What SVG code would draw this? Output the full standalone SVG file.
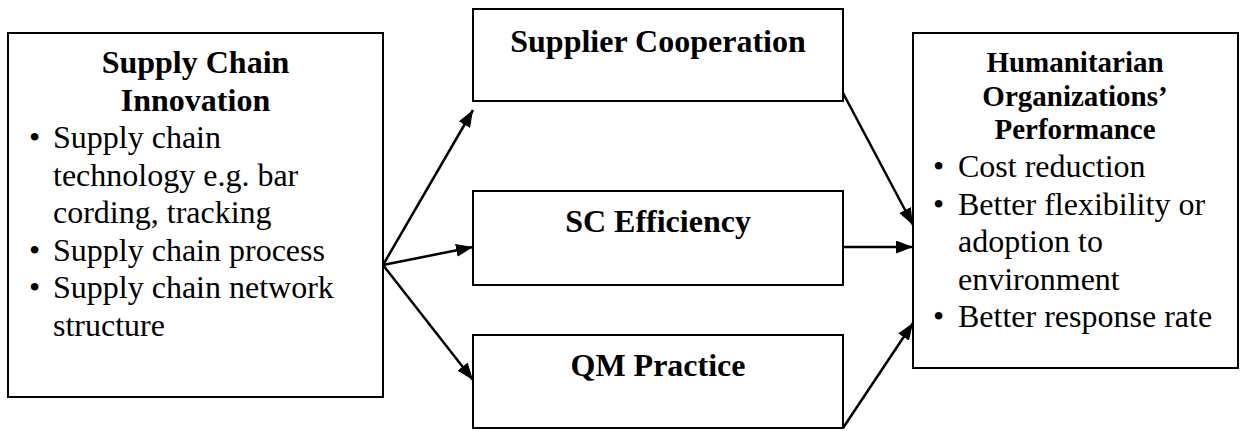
<svg xmlns="http://www.w3.org/2000/svg" width="1244" height="431" viewBox="0 0 1244 431" font-family="'Liberation Serif', Tinos, 'Times New Roman', Times, serif">
  <style>
    .box { fill: #fff; stroke: #000; stroke-width: 2; }
    text { font-family: 'Liberation Serif', Tinos, 'Times New Roman', Times, serif; fill: #000; }
    .title { font-weight: bold; font-size: 32px; text-anchor: middle; }
    .title-sm { font-weight: bold; font-size: 29px; text-anchor: middle; }
    .item { font-size: 32px; }
    .link { stroke: #000; stroke-width: 2.5; fill: none; marker-end: url(#arrow); }
  </style>
  <defs>
    <marker id="arrow" viewBox="0 0 17 13" refX="17" refY="6.5" markerWidth="17" markerHeight="13" markerUnits="userSpaceOnUse" orient="auto">
      <path d="M0,0 L17,6.5 L0,13 Z" fill="#000"/>
    </marker>
  </defs>
  <rect width="1244" height="431" fill="#fff"/>

  <!-- Supply Chain Innovation -->
  <g id="innovation" font-family="Liberation Serif">
    <rect class="box" x="8" y="33" width="375" height="364"/>
    <text class="title" x="195.5" y="73">Supply Chain</text>
    <text class="title" x="195.5" y="111">Innovation</text>
    <text class="item" x="29" y="148">•</text>
    <text class="item" x="53" y="148">Supply chain</text>
    <text class="item" x="53" y="185.5">technology e.g. bar</text>
    <text class="item" x="53" y="223">cording, tracking</text>
    <text class="item" x="29" y="260.5">•</text>
    <text class="item" x="53" y="260.5">Supply chain process</text>
    <text class="item" x="29" y="298">•</text>
    <text class="item" x="53" y="298">Supply chain network</text>
    <text class="item" x="53" y="335.5">structure</text>
  </g>

  <!-- Mediators -->
  <g id="supplier-cooperation">
    <rect class="box" x="473" y="9" width="370" height="92"/>
    <text class="title" x="658" y="52">Supplier Cooperation</text>
  </g>
  <g id="sc-efficiency">
    <rect class="box" x="473" y="191" width="370" height="94"/>
    <text class="title" x="658" y="232">SC Efficiency</text>
  </g>
  <g id="qm-practice">
    <rect class="box" x="473" y="335" width="370" height="93"/>
    <text class="title" x="658" y="376">QM Practice</text>
  </g>

  <!-- Humanitarian Organizations' Performance -->
  <g id="performance">
    <rect class="box" x="913" y="33" width="325" height="335"/>
    <text class="title-sm" x="1075" y="72">Humanitarian</text>
    <text class="title-sm" x="1075" y="105.5">Organizations’</text>
    <text class="title-sm" x="1075" y="139">Performance</text>
    <text class="item" x="933" y="177">•</text>
    <text class="item" x="958" y="177">Cost reduction</text>
    <text class="item" x="933" y="214.5">•</text>
    <text class="item" x="958" y="214.5">Better flexibility or</text>
    <text class="item" x="958" y="252">adoption to</text>
    <text class="item" x="958" y="289.5">environment</text>
    <text class="item" x="933" y="327">•</text>
    <text class="item" x="958" y="327">Better response rate</text>
  </g>

  <!-- Connectors -->
  <g id="connectors">
    <line class="link" x1="383" y1="265" x2="473" y2="110"/>
    <line class="link" x1="383" y1="265" x2="473" y2="247"/>
    <line class="link" x1="383" y1="265" x2="473" y2="380"/>
    <line class="link" x1="843" y1="93" x2="913" y2="225"/>
    <line class="link" x1="843" y1="247" x2="913" y2="247"/>
    <line class="link" x1="843" y1="428" x2="913" y2="323"/>
  </g>
</svg>
